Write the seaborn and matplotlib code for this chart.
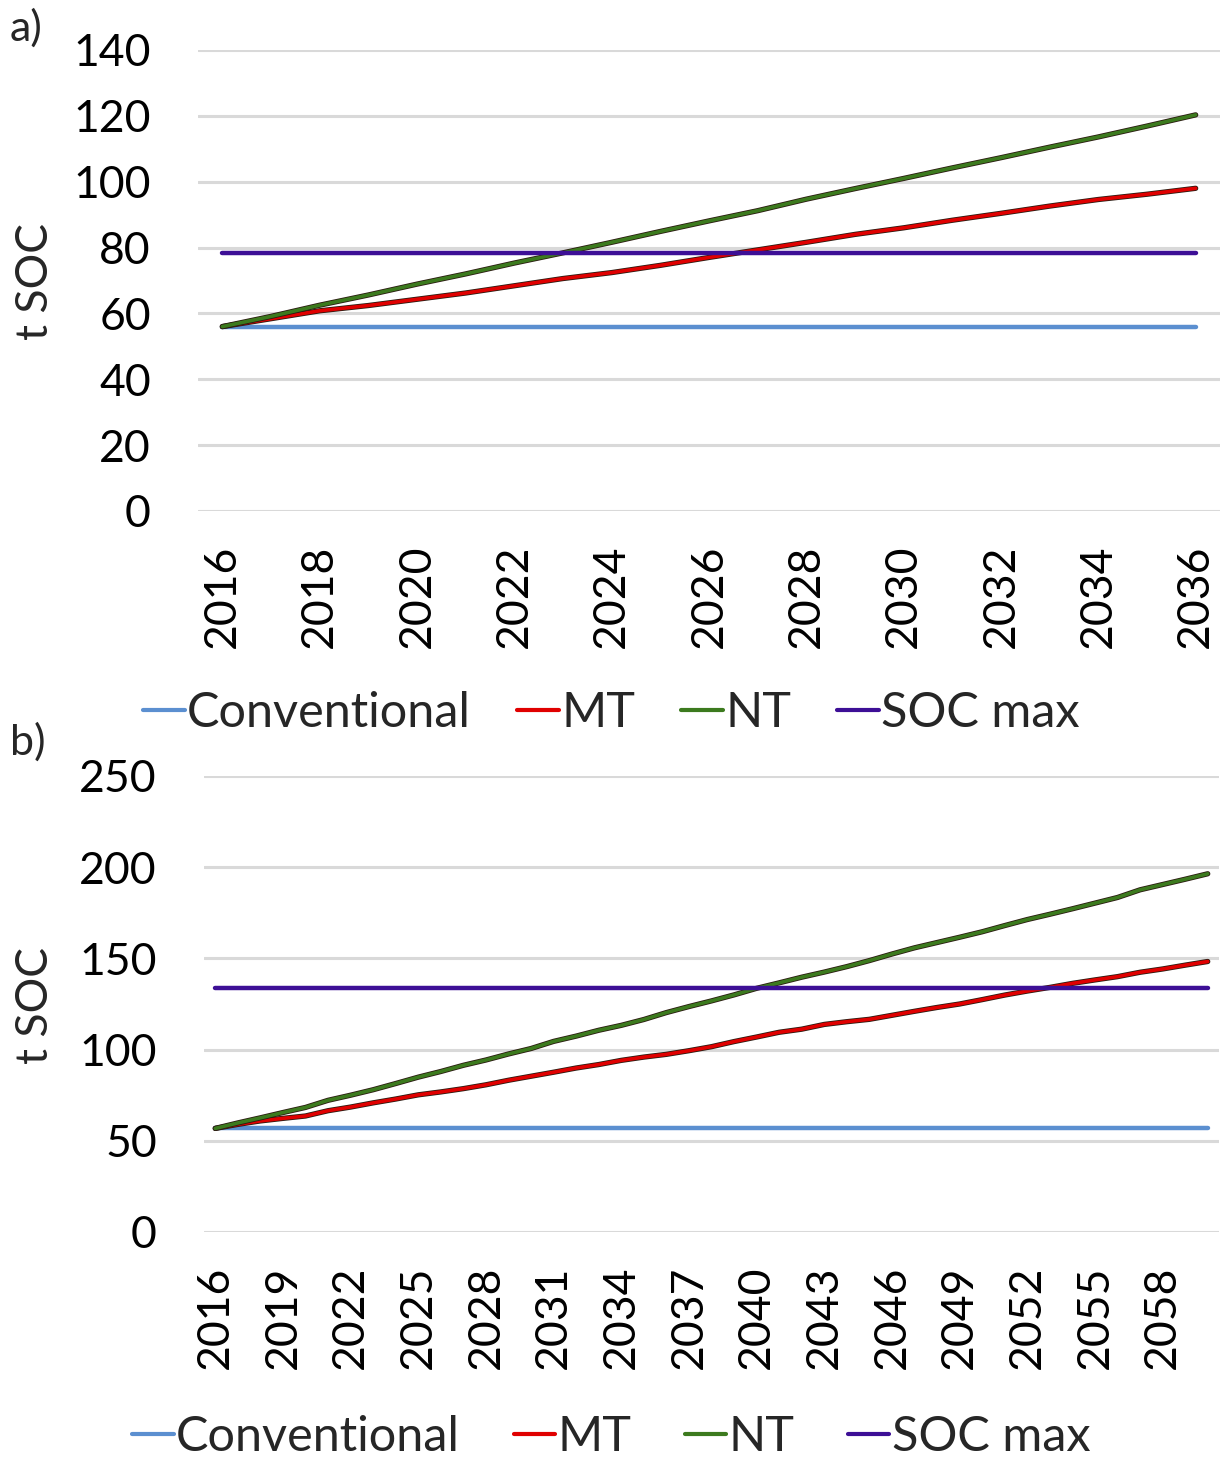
import matplotlib
matplotlib.use("Agg")
import matplotlib.pyplot as plt
import matplotlib.patheffects as pe
from matplotlib.lines import Line2D
import pandas as pd
import seaborn as sns

# ---------------- data ----------------
series = ["Conventional", "MT", "NT", "SOC max"]
colors = ["#5b8fd0", "#e00000", "#3c7a1e", "#3d0f96"]

years_a = list(range(2016, 2037))
conv_a = [56.0] * 21
mt_a = [56.0, 58.4, 60.8, 62.4, 64.3, 66.2, 68.4, 70.6, 72.4, 74.6, 77.0,
        79.3, 81.6, 84.0, 86.0, 88.3, 90.4, 92.6, 94.6, 96.2, 98.0]
nt_a = [56.0, 59.1, 62.5, 65.6, 68.9, 72.0, 75.3, 78.4, 81.6, 84.9, 88.1,
        91.2, 94.7, 97.9, 101.0, 104.2, 107.3, 110.5, 113.6, 116.9, 120.3]
socmax_a = [78.3] * 21

years_b = list(range(2016, 2061))
conv_b = [56.8] * 45
mt_b = [56.8, 59.0, 60.9, 62.3, 63.6, 66.5, 68.5, 70.8, 72.9, 75.2, 76.8,
        78.6, 80.7, 83.2, 85.4, 87.6, 89.9, 91.8, 94.1, 95.9, 97.4, 99.4,
        101.6, 104.4, 106.9, 109.5, 111.2, 113.8, 115.3, 116.6, 118.8, 121.0,
        123.1, 125.0, 127.4, 129.9, 132.1, 134.1, 136.3, 138.2, 140.0, 142.4,
        144.2, 146.3, 148.3]
nt_b = [56.8, 59.8, 62.6, 65.5, 68.3, 72.2, 75.0, 78.0, 81.4, 84.9, 88.0,
        91.4, 94.3, 97.6, 100.6, 104.5, 107.4, 110.6, 113.3, 116.5, 120.3,
        123.6, 126.7, 130.0, 133.6, 136.6, 139.7, 142.5, 145.5, 148.8, 152.4,
        155.8, 158.7, 161.6, 164.6, 168.0, 171.3, 174.2, 177.2, 180.3, 183.4,
        187.6, 190.5, 193.4, 196.4]
socmax_b = [133.5] * 45

yticks_a = [0, 20, 40, 60, 80, 100, 120, 140]
yticks_b = [0, 50, 100, 150, 200, 250]
xticks_a = years_a[::2]
xticks_b = years_b[::3]

# ---------------- style ----------------
sns.set_theme(style="white")
plt.rcParams["font.family"] = ["Lato", "DejaVu Sans"]

W, H = 1223, 1463
fig = plt.figure(figsize=(W / 100, H / 100), dpi=100)
fig.patch.set_facecolor("white")


def make_df(years, vals):
    rows = []
    for name, v in zip(series, vals):
        for y, val in zip(years, v):
            rows.append({"year": y, "value": val, "series": name})
    return pd.DataFrame(rows)


def draw(ax, years, vals, yticks, xticks, ymax, legend_y, colspace):
    df = make_df(years, vals)
    sns.lineplot(data=df, x="year", y="value", hue="series",
                 hue_order=series, palette=dict(zip(series, colors)),
                 linewidth=3.2, ax=ax, legend=False, sort=False)
    for ln, name in zip(ax.get_lines(), series):
        if name in ("MT", "NT"):
            ln.set_linewidth(2.6)
            ln.set_path_effects([pe.Stroke(linewidth=3.8, foreground="#2a1a10"),
                                 pe.Normal()])
    ax.set_xlim(years[0] - 0.5, years[-1] + 0.5)
    ax.set_ylim(0, ymax)
    ax.set_yticks(yticks)
    ax.set_xticks(xticks)
    ax.set_xticklabels([str(t) for t in xticks], rotation=90)
    ax.yaxis.grid(True, color="#d9d9d9", linewidth=2.2)
    ax.xaxis.grid(False)
    ax.set_axisbelow(True)
    for s in ax.spines.values():
        s.set_visible(False)
    ax.tick_params(axis="y", length=0, pad=34, labelsize=32, labelcolor="black")
    ax.tick_params(axis="x", length=0, pad=24, labelsize=32, labelcolor="black")
    ax.set_xlabel("")
    ax.set_ylabel("")
    handles = [Line2D([0], [0], color=c, linewidth=3) for c in colors]
    ax.legend(handles, series, loc="center", bbox_to_anchor=(0.5, legend_y),
              bbox_transform=fig.transFigure, ncol=4, frameon=False,
              fontsize=35, handlelength=0.85, handletextpad=0.05,
              columnspacing=colspace, borderaxespad=0, borderpad=0)


ax_a = fig.add_axes([198 / W, 1 - 511 / H, (1220 - 198) / W, 461 / H])
draw(ax_a, years_a, [conv_a, mt_a, nt_a, socmax_a], yticks_a, xticks_a, 140,
     1 - 713 / H, 0.95)

ax_b = fig.add_axes([204 / W, 1 - 1232 / H, (1219 - 204) / W, 456 / H])
draw(ax_b, years_b, [conv_b, mt_b, nt_b, socmax_b], yticks_b, xticks_b, 250,
     1 - 1437 / H, 1.1)

fig.text(35 / W, 1 - 282 / H, "t SOC", rotation=90, ha="center", va="center",
         fontsize=32)
fig.text(35 / W, 1 - 1005 / H, "t SOC", rotation=90, ha="center", va="center",
         fontsize=32)
fig.text(10 / W, 1 - 28 / H, "a)", ha="left", va="center", fontsize=31)
fig.text(10 / W, 1 - 742 / H, "b)", ha="left", va="center", fontsize=31)

fig.savefig("out.png", dpi=100, facecolor="white")
